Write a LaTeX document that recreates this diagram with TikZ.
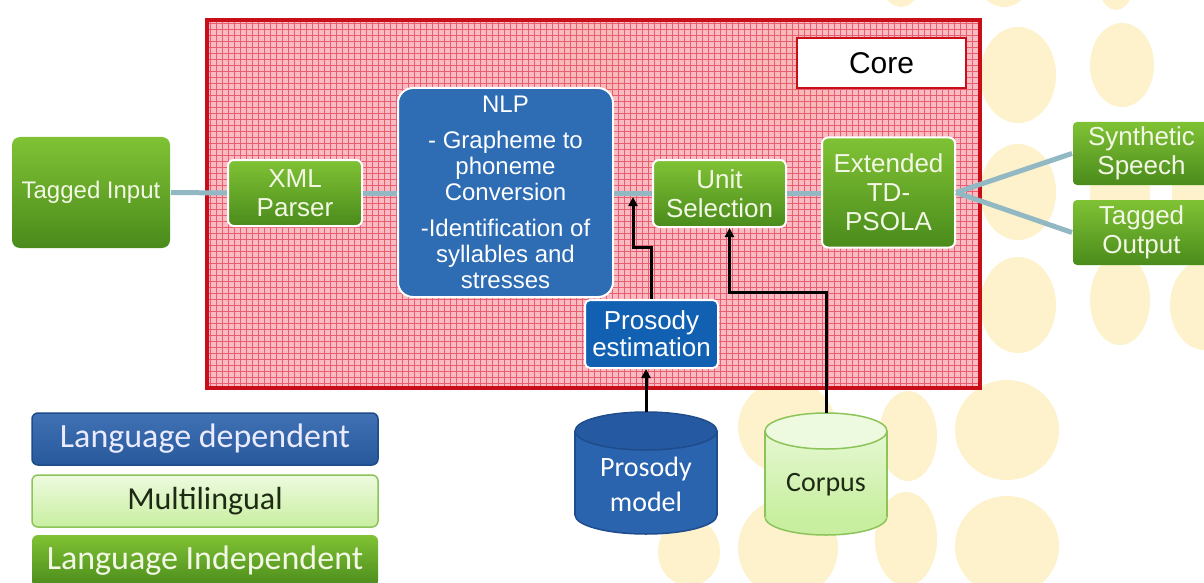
\documentclass[tikz,border=0pt]{standalone}
\usepackage{fontspec}
\setmainfont{Liberation Sans}
\newfontfamily\calfont{Carlito}
\usetikzlibrary{arrows.meta,calc}
\definecolor{gTop}{HTML}{80C234}
\definecolor{gBot}{HTML}{4A8B1C}
\definecolor{gTxt}{HTML}{F3F8E6}
\definecolor{bNLP}{HTML}{2E6CB4}
\definecolor{bPE}{HTML}{1160B2}
\definecolor{bLeg}{HTML}{2B62AC}
\definecolor{bLegD}{HTML}{1E4C88}
\definecolor{lgTop}{HTML}{EDFADF}
\definecolor{lgBot}{HTML}{C8EFA0}
\definecolor{lgBrd}{HTML}{8CC45A}
\definecolor{pinkF}{HTML}{F9B0B7}
\definecolor{pinkG}{HTML}{E85E70}
\definecolor{coreR}{HTML}{C80E18}
\definecolor{connC}{HTML}{92B8C4}
\definecolor{dotY}{HTML}{FDF2CB}
\definecolor{cylB}{HTML}{2A63AE}
\definecolor{cylBT}{HTML}{255AA2}
\definecolor{cylBD}{HTML}{1E4C8C}
\definecolor{mlTxt}{HTML}{1E2A14}
\begin{document}
\begin{tikzpicture}[x=1pt,y=-1pt,
  gbox/.style={rounded corners=6, draw=white, line width=2, top color=gTop, bottom color=gBot,
    text=gTxt, align=center, inner sep=0, font=\fontsize{26}{29}\selectfont},
  bbox/.style={rounded corners=6, draw=white, line width=2, fill=bNLP,
    text=white, align=center, inner sep=0, font=\fontsize{24}{26}\selectfont},
  legbox/.style={rounded corners=6, line width=1.5, align=center, inner sep=0,
    minimum width=346, minimum height=52, font=\calfont\fontsize{34}{36}\selectfont},
  conn/.style={connC, line width=5},
  arr/.style={black, line width=3, -{Triangle[length=9pt,width=9pt]}},
  cylbox/.style={minimum width=142, minimum height=122, inner sep=0}
]
\useasboundingbox (0,0) rectangle (1204,583);
\clip (0,0) rectangle (1204,583);
\fill[white] (0,0) rectangle (1204,583);

% background dots
\foreach \cx/\cy/\rx/\ry in {
  901/-38/25/45, 1004/-38/32/45, 1116/-35/22/45,
  592/62/38/42, 790/75/48/50,
  1018/75/38/48, 1122/65/32/42,
  1018/192/38/48, 1120/192/30/45, 1200/192/28/45,
  1018/305/38/48, 1120/300/30/45, 1205/305/35/45,
  787/427/49/47, 908/436/29/45, 1007/430/52/50,
  689/552/31/34, 788/548/50/50, 906/539/31/47, 1007/546/52/50}
  \fill[dotY] (\cx,\cy) ellipse[x radius=\rx, y radius=\ry];

% core container
\fill[pinkF, fill opacity=0.85] (207,20) rectangle (980,388);
\begin{scope}
  \clip (207,20) rectangle (980,388);
  \foreach \x in {210,216,...,980} \draw[pinkG, line width=0.8] (\x,20) -- (\x,388);
  \foreach \y in {23,29,...,388} \draw[pinkG, line width=0.8] (207,\y) -- (980,\y);
\end{scope}
\draw[coreR, line width=3.5] (207,20) rectangle (980,388);
\node[draw=coreR, line width=2.5, fill=white, minimum width=169, minimum height=50, inner sep=0,
  font=\fontsize{30}{32}\selectfont] (core) at (881.5,63) {Core};

% process nodes
\node[gbox, draw=none, rounded corners=8, minimum width=158, minimum height=111,
  font=\fontsize{24}{28}\selectfont] (ti) at (91,192.5) {Tagged Input};
\node[gbox, minimum width=134, minimum height=66] (xml) at (295,193) {XML\\Parser};
\node[bbox, rounded corners=15, minimum width=215, minimum height=209] (nlp) at (505.5,192.5)
  {NLP\\[10pt]- Grapheme to\\phoneme\\Conversion\\[10pt]-Identification of\\syllables and\\stresses};
\node[gbox, minimum width=133, minimum height=67] (unit) at (719.5,193.5) {Unit\\Selection};
\node[gbox, minimum width=133, minimum height=110] (td) at (888.5,192.5) {Extended\\TD-\\PSOLA};
\node[gbox, draw=none, rounded corners=4, minimum width=137, minimum height=63] (ss) at (1141.5,153.5) {Synthetic\\Speech};
\node[gbox, draw=none, rounded corners=4, minimum width=137, minimum height=65] (to) at (1141.5,232.5) {Tagged\\Output};
\node[bbox, fill=bPE, rounded corners=5, minimum width=133, minimum height=68,
  font=\fontsize{26}{27}\selectfont] (pe) at (651.5,334) {Prosody\\estimation};

% cylinders
\fill[cylB, draw=cylBD, line width=1.5] (646,515) ellipse[x radius=71, y radius=19];
\fill[cylB] (575,431) rectangle (717,515);
\draw[cylBD, line width=1.5] (575,431) -- (575,515) (717,431) -- (717,515);
\filldraw[fill=cylBT, draw=cylBD, line width=1.5] (646,431) ellipse[x radius=71, y radius=19];
\node[cylbox] (pm) at (646,473) {};
\node[text=white, align=center, font=\calfont\fontsize{28}{35}\selectfont] (pmt) at (646,484) {Prosody\\model};

\fill[lgBot, draw=lgBrd, line width=1.5] (826,517) ellipse[x radius=61, y radius=18];
\fill[top color=lgTop!80!lgBot, bottom color=lgBot] (765,431) rectangle (887,517);
\draw[lgBrd, line width=1.5] (765,431) -- (765,517) (887,431) -- (887,517);
\filldraw[fill=lgTop, draw=lgBrd, line width=1.5] (826,431) ellipse[x radius=61, y radius=18];
\node[cylbox, minimum width=122] (co) at (826,474) {};
\node[text=mlTxt, font=\calfont\fontsize{28}{30}\selectfont] (cot) at (826,485) {Corpus};

% legend
\node[legbox, draw=bLegD, top color=bLeg!90!white, bottom color=bLeg!90!black, text=white!92!blue] (ld) at (205,439) {Language dependent};
\node[legbox, draw=lgBrd, top color=lgTop, bottom color=lgBot, text=mlTxt,
  font=\calfont\fontsize{32}{34}\selectfont] (ml) at (205,501) {Multilingual};
\node[legbox, draw=none, top color=gTop, bottom color=gBot, text=gTxt] (li) at (205,561) {Language Independent};

% connectors
\draw[conn] (ti.east) -- (xml.west);
\draw[conn] (xml.east) -- (nlp.west |- xml.east);
\draw[conn] (nlp.east |- unit.west) -- (unit.west);
\draw[conn] (unit.east) -- (td.west |- unit.east);
\draw[conn] (td.east) -- (ss.west);
\draw[conn] (td.east) -- (to.west);

% arrows
\coordinate (pj) at (633,197);
\coordinate (pb) at (0,247);
\coordinate (cb) at (0,292);
\draw[arr] (pe.north) -- (pe.north |- pb) -| (pj);
\draw[arr] (co.north) -- (co.north |- cb) -| ([xshift=10pt]unit.south);
\draw[arr] (pm.north) -- (pm.north |- pe.south);
\end{tikzpicture}
\end{document}
